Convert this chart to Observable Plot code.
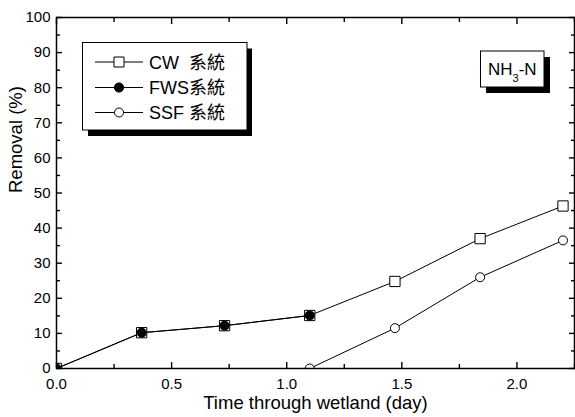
<!DOCTYPE html>
<html><head><meta charset="utf-8">
<script src="https://cdn.jsdelivr.net/npm/d3@7"></script>
<script src="https://cdn.jsdelivr.net/npm/@observablehq/plot@0.6"></script>
<style>body{margin:0;background:#fff} svg{display:block}</style>
</head><body><div id="chart"></div>
<script>
const time = [0, 0.37, 0.73, 1.1, 1.47, 1.84, 2.2];
const cw = [0, 10.2, 12.2, 15.1, 24.8, 37.0, 46.3];
const fwsTime = [0, 0.37, 0.73, 1.1];
const fws = [0, 10.2, 12.2, 15.1];
const ssfTime = [1.1, 1.47, 1.84, 2.2];
const ssf = [0, 11.5, 26.0, 36.5];
const seriesNames = ["CW  系統", "FWS系統", "SSF 系統"];
const xMajor = [0, 0.5, 1.0, 1.5, 2.0];
const xMinor = [0.25, 0.75, 1.25, 1.75, 2.25];
const yMajor = [0, 10, 20, 30, 40, 50, 60, 70, 80, 90, 100];
const yMinor = [5, 15, 25, 35, 45, 55, 65, 75, 85, 95];
const xTitle = "Time through wetland (day)";
const yTitle = "Removal (%)";

const cwData = time.map((t, i) => ({t, v: cw[i]}));
const fwsData = fwsTime.map((t, i) => ({t, v: fws[i]}));
const ssfData = ssfTime.map((t, i) => ({t, v: ssf[i]}));

const FONT = "Arial, 'Liberation Sans', 'Noto Sans CJK TC', sans-serif";

const tickOpts = {text: null, label: null, stroke: "black", strokeWidth: 1.4};
const MAJ = 6, MIN = 4;

const plot = Plot.plot({
  width: 575, height: 417,
  marginLeft: 56, marginRight: 1, marginTop: 17, marginBottom: 49,
  style: {fontFamily: FONT, background: "white", color: "black"},
  x: {domain: [0, 2.25]},
  y: {domain: [0, 100]},
  marks: [
    Plot.axisX(xMajor, {anchor: "bottom", tickSize: MAJ, dy: -MAJ, ...tickOpts}),
    Plot.axisX(xMinor, {anchor: "bottom", tickSize: MIN, dy: -MIN, ...tickOpts}),
    Plot.axisX(xMajor, {anchor: "top", tickSize: MAJ, dy: MAJ, ...tickOpts}),
    Plot.axisX(xMinor, {anchor: "top", tickSize: MIN, dy: MIN, ...tickOpts}),
    Plot.axisY(yMajor, {anchor: "left", tickSize: MAJ, dx: MAJ, ...tickOpts}),
    Plot.axisY(yMinor, {anchor: "left", tickSize: MIN, dx: MIN, ...tickOpts}),
    Plot.axisY(yMajor, {anchor: "right", tickSize: MAJ, dx: -MAJ, ...tickOpts}),
    Plot.axisY(yMinor, {anchor: "right", tickSize: MIN, dx: -MIN, ...tickOpts}),
    Plot.axisX(xMajor, {anchor: "bottom", tickSize: 0, tickPadding: 10, tickFormat: d => d.toFixed(1), fontSize: 15, label: null, fill: "black"}),
    Plot.axisY(yMajor, {anchor: "left", tickSize: 0, tickPadding: 6, fontSize: 15, label: null, fill: "black"}),
    Plot.text([xTitle], {frameAnchor: "bottom", lineAnchor: "bottom", dy: 40, fontSize: 18.5, fill: "black"}),
    Plot.text([yTitle], {frameAnchor: "left", rotate: -90, dx: -40, fontSize: 18.5, fill: "black"}),
    Plot.line(cwData, {x: "t", y: "v", stroke: "black", strokeWidth: 1}),
    Plot.line(fwsData, {x: "t", y: "v", stroke: "black", strokeWidth: 1}),
    Plot.line(ssfData, {x: "t", y: "v", stroke: "black", strokeWidth: 1}),
    Plot.dot(cwData, {x: "t", y: "v", symbol: "square", r: 5.8, fill: "white", stroke: "black", strokeWidth: 1, clip: true}),
    Plot.dot(fwsData, {x: "t", y: "v", symbol: "circle", r: 4.6, fill: "black", stroke: "black", strokeWidth: 1, clip: true}),
    Plot.dot(ssfData, {x: "t", y: "v", symbol: "circle", r: 4.5, fill: "white", stroke: "black", strokeWidth: 1, clip: true}),
    Plot.frame({stroke: "black", strokeWidth: 1.5})
  ]
});
document.getElementById("chart").appendChild(plot);

// Legend box and annotation overlay
const svg = d3.select(plot);
const lg = svg.append("g").attr("font-family", FONT).attr("text-anchor", "start");
lg.append("rect").attr("x", 88).attr("y", 48.5).attr("width", 164).attr("height", 87.5).attr("fill", "black");
lg.append("rect").attr("x", 82.5).attr("y", 42.5).attr("width", 164.5).attr("height", 87.5).attr("fill", "white").attr("stroke", "black").attr("stroke-width", 1);
const rows = [62, 87.5, 112.5];
const markers = [
  {type: d3.symbolSquare, size: 100, fill: "white"},
  {type: d3.symbolCircle, size: Math.PI * 4.6 * 4.6, fill: "black"},
  {type: d3.symbolCircle, size: Math.PI * 4.5 * 4.5, fill: "white"}
];
seriesNames.forEach((name, i) => {
  const y = rows[i];
  lg.append("line").attr("x1", 95).attr("x2", 143).attr("y1", y).attr("y2", y).attr("stroke", "black").attr("stroke-width", 1);
  lg.append("path").attr("d", d3.symbol(markers[i].type, markers[i].size)()).attr("transform", `translate(119,${y})`)
    .attr("fill", markers[i].fill).attr("stroke", "black").attr("stroke-width", 1);
  lg.append("text").attr("x", 149).attr("y", y + 6.5).attr("font-size", 18).attr("fill", "black")
    .attr("xml:space", "preserve").style("white-space", "pre").text(name);
});

const ann = svg.append("g").attr("font-family", FONT).attr("text-anchor", "start");
ann.append("rect").attr("x", 486).attr("y", 57).attr("width", 64).attr("height", 36).attr("fill", "black");
ann.append("rect").attr("x", 480.5).attr("y", 51).attr("width", 63.5).attr("height", 36).attr("fill", "white").attr("stroke", "black").attr("stroke-width", 1);
const t = ann.append("text").attr("x", 488).attr("y", 74.5).attr("font-size", 17).attr("fill", "black");
t.append("tspan").text("NH");
t.append("tspan").attr("font-size", 11).attr("dy", 7).text("3");
t.append("tspan").attr("dy", -7).text("-N");
</script>
</body></html>
